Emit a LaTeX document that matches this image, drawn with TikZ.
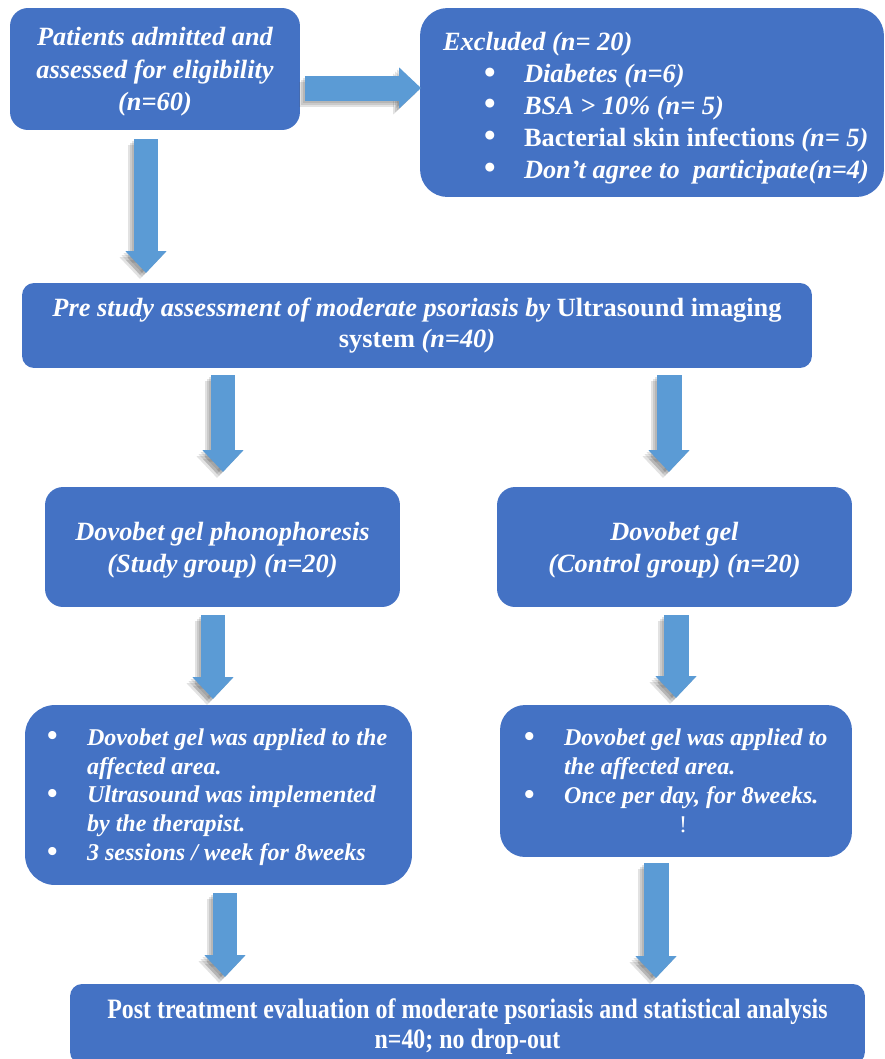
\documentclass[tikz,border=0pt]{standalone}
\usepackage{fontspec}
\setmainfont{Liberation Serif}
\newfontfamily\condfont[FakeStretch=0.85]{Liberation Serif}
\usetikzlibrary{arrows.meta,calc}
\definecolor{boxblue}{HTML}{4472C4}
\definecolor{arrowblue}{HTML}{5B9BD5}
\tikzset{
  box/.style={fill=boxblue, draw=none, text=white, inner sep=0pt,
    font=\bfseries\itshape\fontsize{15}{18.3}\selectfont},
  barrow/.style={draw=arrowblue, line width=0.5cm,
    -{Triangle[length=0.44cm,width=0.8cm]}},
  bshadow/.style={draw=black!70, opacity=0.16, line width=0.5cm,
    -{Triangle[length=0.44cm,width=0.8cm]}},
}
\newcommand{\blockarr}[2]{%
  \draw[bshadow, transform canvas={shift={(-0.12cm,-0.12cm)}}] (#1) -- (#2);
  \draw[bshadow, transform canvas={shift={(-0.08cm,-0.08cm)}}] (#1) -- (#2);
  \draw[bshadow, transform canvas={shift={(-0.04cm,-0.04cm)}}] (#1) -- (#2);
  \draw[barrow] (#1) -- (#2);}
\newcommand{\bl}{\makebox[0.8cm][l]{\upshape\raisebox{-0.03em}[0pt][0pt]{\scalebox{1.25}{\textbullet}}}}
\newcommand{\oneline}[1]{\mbox{#1}}
\begin{document}
\begin{tikzpicture}[x=0.02cm,y=-0.02cm]
\useasboundingbox (0,0) rectangle (885,1059);

% boxes
\node[box, rounded corners=0.36cm, minimum width=5.8cm, minimum height=2.44cm, align=center,
  text depth=0pt]
  (pat) at (155,69) {Patients admitted and\\assessed for eligibility\\(n=60)};
\node[box, rounded corners=0.55cm, minimum width=9.28cm, minimum height=3.78cm,
  text width=8.36cm, align=flush left,
  font=\bfseries\itshape\fontsize{15}{18.2}\selectfont]
  (exc) at (652,102.5) {\oneline{\rule{0pt}{16.5pt}Excluded (n= 20)}\\
  \oneline{\hspace*{0.82cm}\bl Diabetes (n=6)}\\
  \oneline{\hspace*{0.82cm}\bl BSA > 10\% (n= 5)}\\
  \oneline{\hspace*{0.82cm}\bl \upshape Bacterial skin infections \itshape(n= 5)}\\
  \oneline{\hspace*{0.82cm}\bl Don’t agree to~ participate(n=4)}};
\node[box, rounded corners=0.24cm, minimum width=15.8cm, minimum height=1.7cm, align=center,
  font=\bfseries\itshape\fontsize{15}{17.6}\selectfont]
  (pre) at (417,325.5) {Pre study assessment of moderate psoriasis by \upshape Ultrasound imaging\\
  \upshape system \itshape(n=40)};
\node[box, rounded corners=0.36cm, minimum width=7.1cm, minimum height=2.4cm, align=center,
  text depth=-1.2pt, font=\bfseries\itshape\fontsize{15}{18.1}\selectfont]
  (stu) at (222.5,547) {Dovobet gel phonophoresis\\(Study group) (n=20)};
\node[box, rounded corners=0.36cm, minimum width=7.1cm, minimum height=2.4cm, align=center,
  text depth=-1.2pt, font=\bfseries\itshape\fontsize{15}{18.1}\selectfont]
  (con) at (674.5,547) {Dovobet gel\\(Control group) (n=20)};
\node[box, rounded corners=0.6cm, minimum width=7.74cm, minimum height=3.6cm,
  text width=6.86cm, align=flush left,
  font=\bfseries\itshape\fontsize{13.7}{16.4}\selectfont]
  (lb) at (218.5,795) {\oneline{\rule{0pt}{11.8pt}\bl Dovobet gel was applied to the}\\
  \oneline{\hspace*{0.8cm}affected area.}\\
  \oneline{\bl Ultrasound was implemented}\\
  \oneline{\hspace*{0.8cm}by the therapist.}\\
  \oneline{\bl 3 sessions / week for 8weeks}};
\node[box, rounded corners=0.5cm, minimum width=7.04cm, minimum height=3.04cm,
  text width=6.08cm, align=flush left, font=\bfseries\itshape\fontsize{13.7}{16.4}\selectfont]
  (rb) at (676,781) {\oneline{\bl Dovobet gel was applied to}\\
  \oneline{\hspace*{0.8cm}the affected area.}\\
  \oneline{\bl Once per day, for 8weeks.}\\
  \oneline{\hspace*{3.1cm}{\mdseries\upshape !}}};
\node[box, rounded corners=0.24cm, minimum width=15.9cm, minimum height=1.6cm, align=center,
  text depth=-1.6pt, font=\condfont\bfseries\fontsize{16}{17}\selectfont]
  (post) at (467.5,1024) {Post treatment evaluation of moderate psoriasis and statistical analysis\\
  n=40; no drop-out};

% arrow end points
\coordinate (a1) at (305,88);   \coordinate (a2) at (421,88);
\coordinate (b1) at (146,139);  \coordinate (b2) at (146,273);
\coordinate (c1) at (223,375);  \coordinate (c2) at (223,472);
\coordinate (d1) at (669,375);  \coordinate (d2) at (669,472);
\coordinate (e1) at (213,615);  \coordinate (e2) at (213,699);
\coordinate (f1) at (676,615);  \coordinate (f2) at (676,698);
\coordinate (g1) at (225,893);  \coordinate (g2) at (225,977);
\coordinate (h1) at (656,863);  \coordinate (h2) at (656,978);

\blockarr{a1}{a2}
\blockarr{b1}{b2}
\blockarr{c1}{c2}
\blockarr{d1}{d2}
\blockarr{e1}{e2}
\blockarr{f1}{f2}
\blockarr{g1}{g2}
\blockarr{h1}{h2}
\end{tikzpicture}
\end{document}
